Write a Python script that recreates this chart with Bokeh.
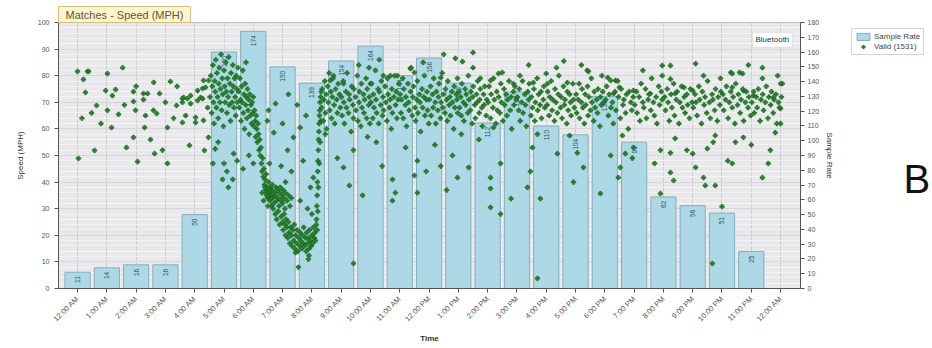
import math
from bokeh.plotting import figure
from bokeh.layouts import row
from bokeh.models import (ColumnDataSource, Range1d, LinearAxis, FixedTicker, Label,
                          Legend, LegendItem, SingleIntervalTicker)
from bokeh.embed import file_html
from bokeh.resources import INLINE
from bokeh.core.properties import value

# ---------------- data ----------------
hours = list(range(24))
time_labels = ["12:00 AM", "1:00 AM", "2:00 AM", "3:00 AM", "4:00 AM", "5:00 AM", "6:00 AM",
               "7:00 AM", "8:00 AM", "9:00 AM", "10:00 AM", "11:00 AM", "12:00 PM", "1:00 PM",
               "2:00 PM", "3:00 PM", "4:00 PM", "5:00 PM", "6:00 PM", "7:00 PM", "8:00 PM",
               "9:00 PM", "10:00 PM", "11:00 PM", "12:00 AM"]
sample_rate = [11, 14, 16, 16, 50, 160, 174, 150, 139, 154, 164, 144,
               156, 139, 112, 133, 110, 104, 130, 99, 62, 56, 51, 25]

night_pts = [(0.00,81.6),(0.34,81.6),(0.20,78.6),(0.38,81.6),(1.02,80.8),(1.54,83.0),(0.27,73.7),
             (0.96,74.4),(1.30,74.8),(1.19,72.5),(0.65,68.8),(0.48,66.0),(1.02,67.0),(1.91,74.0),
             (1.91,70.3),(2.25,73.3),(2.39,73.3),(2.80,73.3),(3.17,77.8),(2.25,71.0),(1.98,67.0),
             (2.59,67.0),(2.70,65.8),(2.32,65.0),(3.38,68.8),(3.58,71.4),(3.75,71.4),(3.86,72.5),
             (3.69,65.0),(4.10,70.7),(4.20,71.8),(4.27,75.2),(4.30,78.2),(3.28,64.0),(1.16,60.5),
             (2.29,60.5),(3.07,60.5),(3.58,62.4),(4.03,62.4),(1.91,56.8),(2.49,56.0),(0.03,48.9),
             (0.58,51.9),(1.67,53.0),(2.63,50.7),(2.05,47.7),(3.07,47.0),(3.82,53.8),(4.33,51.9),
             (4.47,56.8),(0.80,62.0),(1.40,65.5),(2.00,76.0),(2.60,77.5),(3.40,76.0),(3.00,70.0),
             (1.60,69.0),(0.15,64.0),(2.90,52.0),(3.62,71.8),(4.37,75.6),(4.03,64.3),(3.58,70.0),
             (4.10,74.4),(3.86,69.5),(4.27,71.4),(4.47,78.2),(4.44,68.0),(4.30,63.2)]

rise_pts = [(4.52,72),(4.55,80),(4.58,66),(4.6,76),(4.62,84),(4.64,70),(4.66,62),(4.68,78),(4.7,74),
            (4.72,86),(4.74,68),(4.76,81),(4.78,72),(4.8,64),(4.82,77),(4.84,83),(4.86,70),(4.88,75),
            (4.9,88),(4.92,67),(4.94,79),(4.96,73),(4.98,61),(5.0,82),(5.02,76),(5.04,70),(5.06,85),
            (5.08,74),(5.1,66),(5.12,79),(5.14,72),(5.16,87),(5.18,69),(5.2,77),(5.22,63),(5.24,81),
            (5.26,74),(5.28,70),(5.3,84),(5.32,76),(5.34,68),(5.36,79),(5.38,72),(5.4,65),(5.42,80),
            (5.44,75),(5.46,70),(5.48,83),(4.62,47),(4.95,41),(5.0,47),(5.15,38),(5.3,41),(5.33,50.7),
            (5.45,48),(4.8,55),(5.1,44),(4.7,52.5),
            (5.5,74),(5.52,68),(5.54,79),(5.56,71),(5.58,63),(5.6,76),(5.62,70),(5.64,82),(5.66,66),
            (5.68,73),(5.7,60),(5.72,77),(5.74,69),(5.76,72),(5.78,64),(5.8,75),(5.82,67),(5.84,71),
            (5.86,58),(5.88,73),(5.9,65),(5.92,69),(5.94,62),(5.96,70),(5.98,66),(6.0,72),(6.02,61),
            (6.04,67),(6.06,63),(6.08,57),(6.1,65),(6.12,60),(6.14,55),(6.16,62),(6.18,58),(6.2,52),
            (5.65,45),(5.85,50),(6.0,47),(5.75,85)]

dip_pts = [(6.22,56),(6.24,50),(6.26,53),(6.28,47),(6.3,44),(6.32,49),(6.34,42),(6.36,45),(6.38,39),
           (6.4,41),(6.42,37),(6.44,43),(6.46,36),(6.48,38),(6.5,34),(6.52,40),(6.54,36),(6.56,33),
           (6.58,38),(6.6,35),(6.62,31),(6.64,37),(6.66,34),(6.68,30),(6.48,63),(6.52,67),(6.55,47),
           (6.7,58.6),(6.76,69.5),
           (6.3,36),(6.35,33),(6.4,38),(6.45,35),(6.5,31),(6.55,37),(6.6,34),(6.65,39),(6.7,32),
           (6.72,36),(6.75,35),(6.78,38),(6.8,33),(6.82,37),(6.85,34),(6.88,31),(6.9,36),(6.92,38),
           (6.95,33),(6.98,35),(7.0,32),(7.02,37),(7.05,34),(7.08,30),(7.1,36),(7.15,33),(7.2,35),
           (7.25,31),(7.3,34),
           (6.75,28),(6.8,26),(6.85,29),(6.9,24),(6.95,27),(7.0,25),(7.02,22),(7.05,28),(7.08,24),
           (7.1,20),(7.12,26),(7.15,23),(7.18,19),(7.2,25),(7.22,21),(7.25,17),(7.28,23),(7.3,20),
           (7.32,16),(7.35,22),(7.38,18),(7.4,24),(7.42,15),(7.45,20),(7.48,17),(7.5,22),(7.52,14),
           (7.55,19),(7.58,16),(7.6,21),(7.62,18),(7.65,15),(7.68,20),(7.7,17),(7.72,23),(7.75,16),
           (7.78,19),(7.8,14),(7.82,21),(7.85,17),(7.88,19),(7.9,15),(7.92,22),(7.95,18),(7.98,16),
           (8.0,20),(8.02,17),(8.05,23),(8.08,19),(8.1,21),(8.12,18),(8.15,24),
           (7.44,13.5),(7.54,8),(7.88,11),(7.9,12.4),(7.37,56.8),(7.17,52),(7.6,60.5),(8.05,41.7),
           (7.95,38),(7.3,44),(7.7,48),(7.0,62),(7.5,69),(7.8,65),(7.2,73),(6.95,46),(7.1,40),
           (7.6,33),(7.85,30),(8.0,28),
           (8.16,26),(8.17,31),(8.18,35),(8.19,40),(8.2,44),(8.21,48),(8.22,52),(8.23,56),(8.24,59),
           (8.25,62),(8.26,65),(8.27,67),(8.28,70),(8.3,72),(8.32,74),(8.2,29),(8.22,38),(8.25,47),
           (8.28,55),(8.3,63),(8.18,22)]

midday_t = [8.33,8.35,8.39,8.41,8.44,8.46,8.49,8.5,8.54,8.56,8.59,8.61,8.65,8.67,8.7,8.72,8.76,8.78,8.81,8.85,8.87,8.9,8.94,8.97,
            9.01,9.03,9.07,9.09,9.11,9.16,9.18,9.2,9.25,9.27,9.29,9.34,9.36,9.4,9.42,9.44,9.49,9.5,9.55,9.57,9.61,9.62,9.67,9.69,9.71,9.76,9.78,9.8,9.85,9.87,9.89,9.94,9.96,9.98,
            10.02,10.04,10.08,10.1,10.12,10.17,10.19,10.21,10.26,10.28,10.3,10.35,10.37,10.41,10.43,10.45,10.5,10.52,10.56,10.58,10.6,10.65,10.67,10.71,10.73,10.75,10.8,10.82,10.86,10.88,10.9,10.95,10.97,
            11.01,11.04,11.06,11.1,11.12,11.14,11.19,11.21,11.23,11.28,11.3,11.32,11.37,11.39,11.43,11.45,11.47,11.52,11.54,11.58,11.6,11.62,11.67,11.69,11.71,11.76,11.78,11.82,11.84,11.86,11.91,11.93,11.95,11.99,
            12.01,12.05,12.07,12.12,12.14,12.16,12.21,12.23,12.25,12.3,12.32,12.34,12.39,12.41,12.45,12.47,12.49,12.54,12.56,12.6,12.62,12.64,12.69,12.71,12.73,12.78,12.8,12.84,12.86,12.88,12.93,12.95,12.98,
            13.02,13.04,13.08,13.1,13.12,13.17,13.19,13.23,13.25,13.27,13.32,13.34,13.36,13.41,13.43,13.47,13.49,13.51,13.56,13.58,13.62,13.64,13.66,13.71,13.73,13.75,13.8,13.82,13.86,13.88,13.9,13.95,13.97]
midday_s = [68,75,63,71,78,66,73,60,76,70,81,67,74,64,72,79,69,62,75,71,66,77,73,68,
            72,65,78,70,62,74,68,81,66,73,71,59,76,69,64,75,72,67,80,63,70,74,61,77,68,73,66,71,79,64,75,69,72,62,
            70,77,64,73,68,82,71,66,75,62,74,69,78,65,72,67,76,70,63,79,73,68,71,60,75,66,72,80,69,74,64,71,77,
            73,66,71,79,64,75,69,72,61,77,70,67,74,83,65,72,76,68,63,71,78,66,73,70,59,75,68,72,80,65,71,74,67,62,
            71,76,65,73,68,79,70,62,74,67,72,77,64,70,81,68,73,66,75,71,63,78,69,72,65,74,70,60,76,68,73,71,66,
            74,68,72,65,77,70,63,75,69,73,66,80,71,67,74,62,72,76,69,64,73,70,78,66,71,75,68,61,73,69,76,65,71]

afternoon_t = [14.02,14.05,14.1,14.12,14.18,14.2,14.23,14.28,14.31,14.33,14.38,14.42,14.45,14.47,14.52,14.56,14.58,14.63,14.66,14.68,14.73,14.77,14.8,14.82,14.88,14.9,14.93,14.98,
               15.01,15.06,15.08,15.11,15.16,15.19,15.21,15.27,15.29,15.32,15.37,15.4,15.42,15.48,15.5,15.53,15.58,15.61,15.63,15.69,15.71,15.74,15.79,15.82,15.84,15.9,15.92,15.95,
               16.03,16.05,16.1,16.12,16.17,16.2,16.22,16.28,16.3,16.33,16.38,16.41,16.43,16.49,16.51,16.54,16.59,16.62,16.64,16.7,16.72,16.75,16.8,16.83,16.85,16.91,16.93,16.96,
               17.02,17.04,17.09,17.12,17.14,17.2,17.22,17.25,17.3,17.33,17.35,17.41,17.43,17.46,17.51,17.54,17.56,17.62,17.64,17.67,17.72,17.75,17.77,17.83,17.85,17.88,17.93,17.96]
afternoon_s = [70,76,64,73,68,79,71,62,74,67,72,66,77,70,63,75,69,73,65,71,78,67,72,60,74,69,76,71,
               72,67,75,63,70,78,66,73,69,61,74,71,77,65,72,68,75,63,70,79,67,73,69,74,64,71,76,68,
               69,74,65,72,78,67,71,63,75,70,66,73,80,68,72,64,76,69,71,62,74,67,73,70,65,77,71,68,
               73,66,71,77,64,70,75,68,62,73,69,76,65,72,67,79,70,63,74,68,71,66,75,61,72,69,74,70]

evening_t = [18.03,18.06,18.12,18.15,18.21,18.26,18.29,18.35,18.38,18.44,18.47,18.53,18.56,18.62,18.65,18.71,18.74,18.8,18.83,18.89,18.92,18.97,
             19.02,19.08,19.1,19.17,19.2,19.24,19.3,19.33,19.39,19.42,19.48,19.51,19.57,19.6,19.66,19.69,19.75,19.78,19.84,19.87,19.93,19.96,
             20.04,20.07,20.13,20.16,20.2,20.26,20.29,20.35,20.38,20.44,20.47,20.53,20.56,20.62,20.65,20.71,20.74,20.8,20.83,20.89,20.92,20.98,
             21.02,21.08,21.11,21.15,21.21,21.24,21.3,21.33,21.39,21.42,21.48,21.51,21.57,21.6,21.66,21.69,21.75,21.78,21.84,21.87,21.93,21.96,
             22.03,22.06,22.12,22.15,22.21,22.25,22.3,22.35,22.38,22.44,22.47,22.53,22.56,22.62,22.65,22.71,22.74,22.8,22.83,22.89,22.92,22.98,
             23.02,23.08,23.1,23.17,23.2,23.24,23.3,23.33,23.39,23.42,23.48,23.51,23.57,23.6,23.66,23.69,23.75,23.78,23.84,23.87,23.93,23.96,24.03]
evening_s = [71,76,65,73,68,70,62,74,67,78,72,64,75,69,71,66,73,60,74,70,67,72,
             69,74,66,72,63,77,70,68,75,64,71,73,67,79,70,65,72,62,76,69,74,71,
             72,67,75,70,63,73,68,77,65,71,74,62,70,76,68,72,66,73,69,64,75,70,
             68,73,70,65,76,71,62,74,69,72,66,78,70,64,73,71,67,75,63,72,69,74,
             73,67,71,76,64,70,74,68,72,62,77,69,73,66,71,75,63,70,74,68,72,65,
             70,74,66,72,68,75,63,71,73,67,70,76,64,72,69,74,66,71,73,62,70,68,72]

low_pts = [(8.46,58),(8.87,49),(9.28,38.7),(9.42,52),(9.08,45.5),(9.73,35),(10.4,46),(10.75,41),
           (10.85,36),(10.75,33),(11.6,36),(11.5,42.5),(11.9,44),(12.4,46),(12.6,37),(12.97,41.7),
           (13.35,45.5),(14.1,41.7),(14.1,37.6),(14.1,30.5),(14.44,28),(14.44,47),(14.8,33.8),
           (15.36,38),(15.46,44),(15.8,33.8),(15.53,53),(16.38,50.7),(16.93,40),(17.06,51),
           (17.27,45.5),(17.85,35.7),(18.46,41.7),(16.8,57.5),(15.7,58),(11.6,48),(14.2,60.5),
           (9.42,9.4),(15.7,3.8),(10.2,55),(12.2,54),(13.7,56),(9.9,57),(11.2,53),(12.8,50),(13.1,58),
           (18.6,57.5),(18.7,50.7),(18.53,45.5),(18.98,53),(18.94,49),(19.7,47),(19.9,52),(20.24,51),
           (20.4,56.4),(20.24,43.6),(20.35,40.6),(21.1,45.5),(21.0,50.7),(20.8,52),(21.37,41.7),
           (21.43,38.7),(21.77,38.7),(21.5,52.6),(21.77,57.5),(21.7,55),(22.2,48),(22.35,47),
           (22.73,56.8),(22.46,55),(23.38,41.7),(23.58,47),(23.65,52),(24.0,62),(23.82,58.6),
           (22.0,30.8),(19.9,35.7),(21.67,9.4),(18.2,50),(23.0,54)]

high_pts = [(12.5,88),(13.5,88.7),(13.14,85.3),(13.5,83),(11.36,82.7),(11.5,81.2),(15.1,80),(16.35,83),
            (16.0,80.8),(17.4,82),(14.37,80.8),(14.5,81.2),(13.75,79),(14.1,78.2),(12.97,79),(12.4,79.3),
            (10.44,80),(10.68,80),(10.92,80),(8.74,80),(8.63,78.2),(10.0,77),(9.08,77),(14.88,77),
            (15.56,77.4),(16.04,77),(16.72,77.4),(18.1,79.3),(18.36,78.2),(19.96,83.8),(20.24,83.8),
            (19.96,80),(20.24,78.7),(21.37,80),(22.3,81.2),(22.6,81.2),(23.38,83),(24.06,77),(23.38,79),
            (21.95,79),(22.35,75.6),(22.73,74.4),(23.07,72.5),(23.75,71.8),(24.0,67.7),(20.7,75.6),
            (21.0,74.4),(20.4,73.3),(19.55,73.3),(18.98,74.4),(18.5,75.6),(18.2,78.2),(18.3,73.3),
            (17.44,81.6),(17.9,80),(22.35,80.8),(22.7,80.8),(24.0,77),(9.6,84),(10.3,86),(11.8,85),
            (12.9,86.5),(9.95,83),(15.4,84),(16.6,85.5),(17.2,84),(19.3,82),(21.1,84.5),(22.9,84),(23.9,80)]

assert len(midday_t) == len(midday_s)
assert len(afternoon_t) == len(afternoon_s)
assert len(evening_t) == len(evening_s)

valid_t, valid_s = [], []
for grp in (night_pts, rise_pts, dip_pts, low_pts, high_pts):
    for t, s in grp:
        valid_t.append(t)
        valid_s.append(s)
for ts, ss in ((midday_t, midday_s), (afternoon_t, afternoon_s), (evening_t, evening_s)):
    valid_t.extend(ts)
    valid_s.extend(ss)

# ---------------- main figure ----------------
FONT = "Liberation Sans"
BAR_FILL, BAR_LINE = "#add8e6", "#86aebd"
PT_FILL, PT_LINE = "#25802a", "#17631a"

fig = figure(width=845, height=348, x_range=Range1d(-0.65, 24.68), y_range=Range1d(0, 100),
             output_backend="svg", toolbar_location=None, title="Matches - Speed (MPH)",
             min_border_left=58, min_border_right=45, min_border_top=22, min_border_bottom=60)
fig.extra_y_ranges = {"rate": Range1d(0, 180)}
fig.background_fill_color = "#e9e9ec"
fig.border_fill_color = "white"
fig.outline_line_color = "#bfbfbf"

# title tab
fig.title.align = "left"
fig.title.offset = 0
fig.title.standoff = 0
fig.title.text_font = FONT
fig.title.text_font_size = "11px"
fig.title.text_font_style = "normal"
fig.title.text_color = "#6a5420"
fig.title.background_fill_color = "#fdf4d2"
fig.title.border_line_color = "#d8c07a"
fig.title.padding = (7, 2)

# grids
fig.xgrid.ticker = FixedTicker(ticks=list(range(25)))
fig.xgrid.grid_line_color = "#cdcdd2"
fig.ygrid.grid_line_color = "#d6d6da"
fig.ygrid.minor_grid_line_color = "#f3f3f5"

# x axis
xa = fig.xaxis[0]
xa.ticker = FixedTicker(ticks=list(range(25)))
xa.major_label_overrides = {i: lab for i, lab in enumerate(time_labels)}
xa.major_label_orientation = math.pi / 4
xa.major_label_text_font = FONT
xa.major_label_text_font_size = "7.5px"
xa.major_label_text_color = "#555555"
xa.axis_label = "Time"
xa.axis_label_text_font = FONT
xa.axis_label_text_font_size = "8px"
xa.axis_label_text_font_style = "bold"
xa.axis_label_text_color = "#333333"
xa.axis_label_standoff = 4
xa.axis_line_color = "#555555"
xa.major_tick_line_color = "#555555"
xa.major_tick_out = 4
xa.major_tick_in = 0
xa.minor_tick_line_color = None

# left axis
ya = fig.yaxis[0]
ya.ticker = SingleIntervalTicker(interval=10, num_minor_ticks=5)
ya.major_label_text_font = FONT
ya.major_label_text_font_size = "7px"
ya.major_label_text_color = "#555555"
ya.axis_label = "Speed (MPH)"
ya.axis_label_text_font = FONT
ya.axis_label_text_font_size = "8px"
ya.axis_label_text_font_style = "normal"
ya.axis_label_text_color = "#333333"
ya.axis_label_standoff = 10
ya.axis_line_color = "#555555"
ya.major_tick_line_color = "#555555"
ya.major_tick_out = 4
ya.major_tick_in = 0
ya.minor_tick_line_color = None

# right axis
ra = LinearAxis(y_range_name="rate", ticker=SingleIntervalTicker(interval=10),
                axis_label="Sample Rate")
ra.major_label_text_font = FONT
ra.major_label_text_font_size = "7px"
ra.major_label_text_color = "#555555"
ra.major_label_standoff = 3
ra.axis_label_text_font = FONT
ra.axis_label_text_font_size = "8px"
ra.axis_label_text_font_style = "normal"
ra.axis_label_text_color = "#333333"
ra.axis_label_standoff = 3
ra.axis_line_color = "#555555"
ra.major_tick_line_color = "#555555"
ra.major_tick_out = 4
ra.major_tick_in = 0
ra.minor_tick_line_color = None
fig.add_layout(ra, "right")

# bars (sample rate)
bar_src = ColumnDataSource(dict(x=hours, top=sample_rate, lab=[str(v) for v in sample_rate]))
fig.vbar(x="x", top="top", width=0.86, source=bar_src, y_range_name="rate",
         fill_color=BAR_FILL, line_color=BAR_LINE, line_width=1)
fig.text(x="x", y="top", text="lab", source=bar_src, y_range_name="rate",
         angle=math.pi / 2, text_align="right", text_baseline="middle", y_offset=4,
         text_font=value(FONT), text_font_size="6.5px", text_color="#2f5060")

# scatter (valid speeds)
fig.scatter(x=valid_t, y=valid_s, marker="plus", size=4.6,
            fill_color=PT_FILL, line_color=PT_LINE, line_width=0.5)

# Bluetooth tag
fig.add_layout(Label(x=24.4, y=93.5, text="Bluetooth", text_align="right", text_baseline="middle",
                     text_font=FONT, text_font_size="8px", text_color="#333333",
                     background_fill_color="white", border_line_color="#e0e0e0", padding=3))

# ---------------- side strip (legend and the stray "B") ----------------
side = figure(width=87, height=348, x_range=Range1d(845, 932), y_range=Range1d(321, 22),
              output_backend="svg", toolbar_location=None, title=None,
              x_axis_location=None, y_axis_location=None,
              min_border_left=0, min_border_right=0, min_border_bottom=27, min_border_top=22)
side.grid.visible = False
side.outline_line_color = None
side.background_fill_color = "white"
side.border_fill_color = "white"

# legend keys: same series and styles, hidden in this strip (legend shows them unshaded)
bar_key = side.vbar(x="x", top="top", width=0.86, source=bar_src,
                    fill_color=BAR_FILL, line_color=BAR_LINE, visible=False)
pt_key = side.scatter(x=valid_t, y=valid_s, marker="plus", size=6, fill_color=PT_FILL,
                      line_color=PT_LINE, line_width=0.5, visible=False)
legend = Legend(items=[LegendItem(label="Sample Rate", renderers=[bar_key]),
                       LegendItem(label="Valid (1531)", renderers=[pt_key])],
                location="top_left", margin=6, label_text_font=FONT, label_text_font_size="8px",
                label_text_color="#444444", glyph_width=16, glyph_height=9, label_height=9,
                spacing=1, padding=3, label_standoff=3, inactive_fill_alpha=0,
                border_line_color="#aaaaaa", background_fill_color="white")
side.add_layout(legend)

side.add_layout(Label(x=903, y=198, text="B", text_align="left", text_baseline="alphabetic",
                      text_font=FONT, text_font_size="40px", text_color="#111111"))

p = row(fig, side)
open("out.html", "w").write(file_html(p, INLINE))
